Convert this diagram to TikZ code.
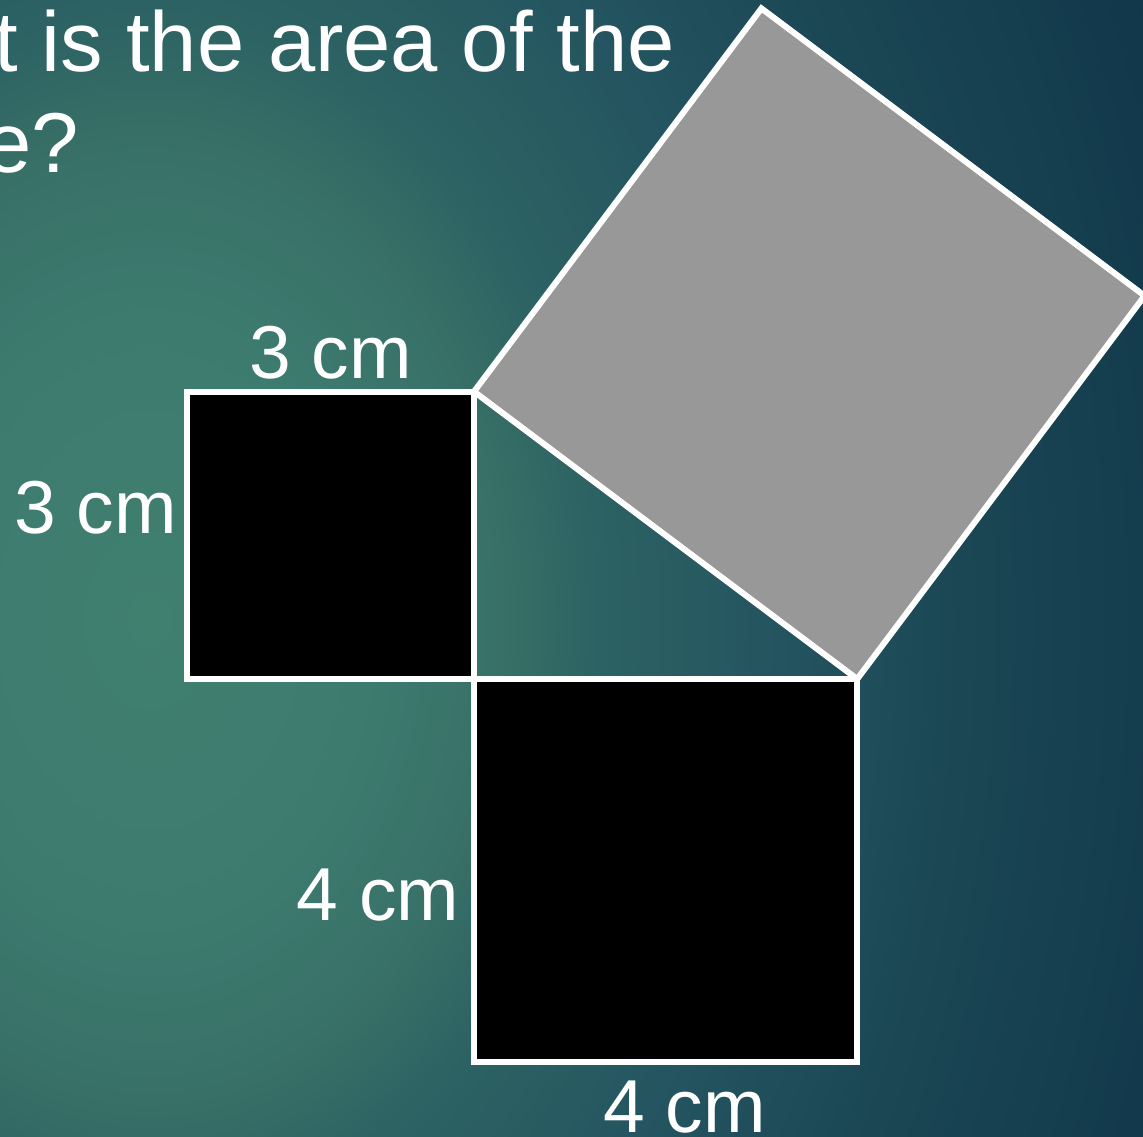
\documentclass[tikz,border=0pt]{standalone}
\usepackage{fontspec}
\setmainfont{Liberation Sans}
\definecolor{bgA}{HTML}{40806F}
\definecolor{bgB}{HTML}{3D7B6F}
\definecolor{bgC}{HTML}{387067}
\definecolor{bgD}{HTML}{2D6363}
\definecolor{bgE}{HTML}{245560}
\definecolor{bgF}{HTML}{1A4553}
\definecolor{bgG}{HTML}{10374A}
\definecolor{hyp}{HTML}{989898}
\pgfdeclareradialshading{bgglow}{\pgfpoint{0bp}{0bp}}{%
  color(0bp)=(bgA); color(5bp)=(bgB); color(8bp)=(bgC); color(10bp)=(bgD);
  color(14bp)=(bgE); color(19bp)=(bgF); color(25bp)=(bgG); color(50bp)=(bgG)}
\tikzset{
  sq/.style={draw=white, line width=6pt},
  lbl/.style={text=white, inner sep=0pt, font=\fontsize{75}{80}\selectfont},
  ttl/.style={text=white, inner sep=0pt, font=\fontsize{85}{90}\selectfont}
}
\begin{document}
\begin{tikzpicture}[x=95.8pt,y=95.8pt]
\useasboundingbox (-474pt,-457pt) rectangle (669pt,679pt);
\clip (-474pt,-457pt) rectangle (669pt,679pt);
\fill[bgG] (-474pt,-457pt) rectangle (669pt,679pt);
\shade[shading=bgglow] (-324pt,59pt) ellipse (1100pt and 1500pt);
% corners of the triangle
\coordinate (C) at (0,0);
\coordinate (A) at (0,3);
\coordinate (B) at (4,0);
\coordinate (P) at (3,7);
\coordinate (Q) at (7,4);
% squares on the sides
\draw[sq,fill=hyp] (A)--(P)--(Q)--(B)--cycle;
\draw[sq,fill=black] (-3,0) rectangle (A);
\draw[sq,fill=black] (C) rectangle (4,-4);
% labels
\node[lbl,anchor=base] (t3) at (-1.5,3.14) {3 cm};
\node[lbl,anchor=base east] (l3) at (-3.1,1.52) {3 cm};
\node[lbl,anchor=base east] (l4) at (-0.15,-2.52) {4 cm};
\node[lbl,anchor=base] (b4) at (2.2,-4.73) {4 cm};
% question
\node[ttl,anchor=base west] (q1) at (-480pt,607pt) {t is the area of the};
\node[ttl,anchor=base west] (q2) at (-490pt,506pt) {e?};
\end{tikzpicture}
\end{document}
